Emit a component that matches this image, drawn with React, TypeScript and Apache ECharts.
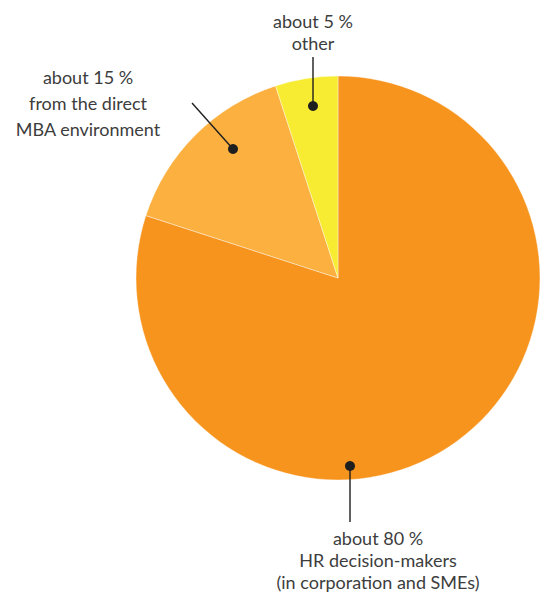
import React, { useEffect, useRef } from "react";
import * as echarts from "echarts";

const categories = [
  "HR decision-makers (in corporation and SMEs)",
  "from the direct MBA environment",
  "other",
];
const values = [80, 15, 5];
const colors = ["#F7941D", "#FBB040", "#F8EC32"];
const labelTexts = [
  "about 80 %\nHR decision-makers\n(in corporation and SMEs)",
  "about 15 %\nfrom the direct\nMBA environment",
  "about 5 %\nother",
];

export default function App() {
  const ref = useRef<HTMLDivElement>(null);
  useEffect(() => {
    document.body.style.margin = "0";
    const chart = echarts.init(ref.current!, null, { renderer: "svg" });
    const font = "Lato, 'Open Sans', sans-serif";
    const textStyle = (lh: number) => ({
      fill: "#3d3d3d",
      fontSize: 18,
      fontWeight: 400,
      fontFamily: font,
      textAlign: "center",
      textVerticalAlign: "top",
      lineHeight: lh,
    });
    const dot = (x: number, y: number) => ({
      type: "circle",
      shape: { cx: x, cy: y, r: 5 },
      style: { fill: "#1f1f1f" },
      z: 10,
    });
    const line = (x1: number, y1: number, x2: number, y2: number) => ({
      type: "line",
      shape: { x1, y1, x2, y2 },
      style: { stroke: "#1f1f1f", lineWidth: 1.4 },
      z: 10,
    });
    chart.setOption({
      animation: false,
      series: [
        {
          type: "pie",
          center: [338, 278],
          radius: [0, 202],
          startAngle: 90,
          clockwise: true,
          label: { show: false },
          labelLine: { show: false },
          emphasis: { disabled: true },
          itemStyle: { borderColor: "#ffffff", borderWidth: 0.4 },
          data: categories.map((c, i) => ({
            name: c,
            value: values[i],
            itemStyle: { color: colors[i] },
          })),
        },
      ],
      graphic: [
        line(313, 57, 313, 106),
        dot(313, 106),
        line(192, 103, 233, 149),
        dot(233, 149),
        line(350, 466, 350, 522),
        dot(350, 466),
        { type: "text", x: 313, y: 10, style: { ...textStyle(22), text: labelTexts[2] }, z: 10 },
        { type: "text", x: 88, y: 64, style: { ...textStyle(26), text: labelTexts[1] }, z: 10 },
        { type: "text", x: 378, y: 527, style: { ...textStyle(22), text: labelTexts[0] }, z: 10 },
      ],
    });
    return () => chart.dispose();
  }, []);
  return <div ref={ref} style={{ width: 542, height: 592 }} />;
}
